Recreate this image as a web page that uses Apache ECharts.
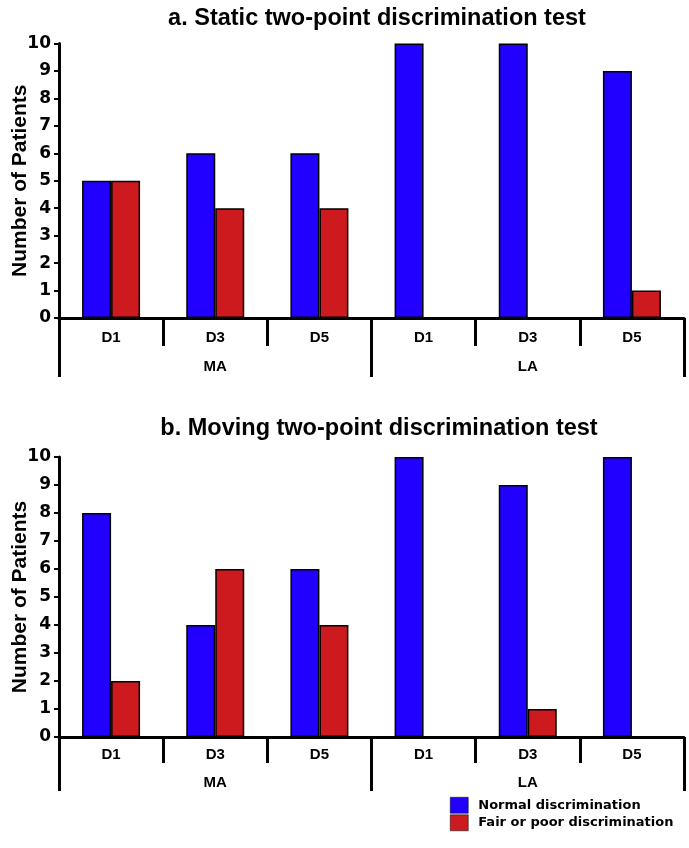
<!DOCTYPE html>
<html><head><meta charset="utf-8">
<script src="https://cdn.jsdelivr.net/npm/echarts@6/dist/echarts.min.js"></script>
<style>html,body{margin:0;padding:0;background:#fff}#c{width:689px;height:848px}</style>
</head><body><div id="c"></div>
<script>
const categories = ['D1','D3','D5','D1','D3','D5'];
const groups = ['MA','LA'];
const yTicks = [0,1,2,3,4,5,6,7,8,9,10];
const staticNormal = [5,6,6,10,10,9];
const staticFair = [5,4,4,0,0,1];
const movingNormal = [8,4,6,10,9,10];
const movingFair = [2,6,4,0,1,0];
const seriesNames = ['Normal discrimination','Fair or poor discrimination'];
const titles = ['a. Static two-point discrimination test','b. Moving two-point discrimination test'];

const FONT = '"Liberation Sans", Arial, sans-serif';
const WIDE = '"DejaVu Sans", sans-serif';
const BLUE = '#2200FF', RED = '#CC1A1F';
const chart = echarts.init(document.getElementById('c'), null, {renderer:'canvas'});
const grids = [
  {left:59, right:5, top:43.5, height:274.5, containLabel:false, outerBoundsMode:'none'},
  {left:59, right:5, top:457, height:280, containLabel:false, outerBoundsMode:'none'}
];
const layout = [
  {shortLen:28, longLen:59, m1:12, m2:41},
  {shortLen:26, longLen:54, m1:10, m2:38}
];
const xAxes = [], yAxes = [], series = [];
[0,1].forEach(i=>{
  const L = layout[i];
  xAxes.push({type:'category', gridIndex:i, data:categories, boundaryGap:true,
    axisLine:{lineStyle:{color:'#000', width:3}},
    axisTick:{show:true, interval:0, length:L.shortLen, lineStyle:{color:'#000', width:3}},
    axisLabel:{interval:0, margin:L.m1, color:'#000', fontWeight:'bold', fontSize:15, fontFamily:FONT}, z:5});
  xAxes.push({type:'category', gridIndex:i, data:groups, boundaryGap:true, position:'bottom',
    axisLine:{show:false},
    axisTick:{show:true, interval:0, length:L.longLen, lineStyle:{color:'#000', width:3}},
    axisLabel:{interval:0, margin:L.m2, color:'#000', fontWeight:'bold', fontSize:15, fontFamily:FONT}});
  yAxes.push({type:'value', gridIndex:i, min:0, max:10, interval:1,
    name:'Number of Patients', nameLocation:'middle', nameGap:28, nameMoveOverlap:false,
    nameTextStyle:{color:'#000', fontWeight:'bold', fontSize:21, fontFamily:FONT},
    axisLine:{show:true, lineStyle:{color:'#000', width:3}},
    axisTick:{show:true, length:5, lineStyle:{color:'#000', width:2}},
    axisLabel:{color:'#000', fontWeight:'bold', fontSize:17, fontFamily:WIDE, margin:8,
      formatter:v=>yTicks.includes(v)?String(v):''},
    splitLine:{show:false}});
});
const data = [[staticNormal, staticFair],[movingNormal, movingFair]];
[0,1].forEach(i=>{
  [0,1].forEach(s=>{
    series.push({type:'bar', name:seriesNames[s], xAxisIndex:i*2, yAxisIndex:i, data:data[i][s],
      barWidth:29, barGap:'0%',
      itemStyle:{color:s===0?BLUE:RED, borderColor:'#000', borderWidth:1.5}});
  });
});
chart.setOption({
  animation:false,
  title:[
    {text:titles[0], left:372, top:2, textAlign:'center', textStyle:{fontSize:23.5, fontWeight:'bold', color:'#000', fontFamily:FONT}},
    {text:titles[1], left:374, top:412, textAlign:'center', textStyle:{fontSize:23.5, fontWeight:'bold', color:'#000', fontFamily:FONT}}
  ],
  legend:{data:seriesNames, orient:'vertical', left:445, top:792, itemWidth:18, itemHeight:16, itemGap:1,
    icon:'rect', itemStyle:{borderColor:'#000', borderWidth:0.5},
    textStyle:{color:'#000', fontWeight:'bold', fontSize:13, fontFamily:WIDE, padding:[0,0,0,5]}},
  grid:grids, xAxis:xAxes, yAxis:yAxes, series:series
});
</script></body></html>
